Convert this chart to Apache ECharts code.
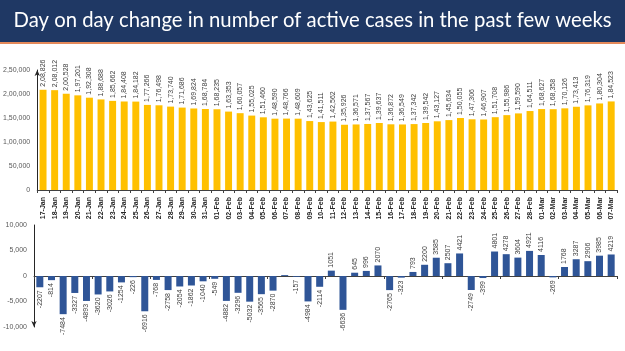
<!DOCTYPE html>
<html>
<head>
<meta charset="utf-8">
<script src="https://cdn.jsdelivr.net/npm/echarts@6/dist/echarts.min.js"></script>
<style>
html,body{margin:0;padding:0;background:#fff;}
#chart{width:625px;height:351px;}
</style>
</head>
<body>
<div id="chart"></div>
<script>
const titleText = "Day on day change in number of active cases in the past few weeks";

const categories = [
  "17-Jan","18-Jan","19-Jan","20-Jan","21-Jan","22-Jan","23-Jan","24-Jan","25-Jan","26-Jan",
  "27-Jan","28-Jan","29-Jan","30-Jan","31-Jan",
  "01-Feb","02-Feb","03-Feb","04-Feb","05-Feb","06-Feb","07-Feb","08-Feb","09-Feb","10-Feb",
  "11-Feb","12-Feb","13-Feb","14-Feb","15-Feb","16-Feb","17-Feb","18-Feb","19-Feb","20-Feb",
  "21-Feb","22-Feb","23-Feb","24-Feb","25-Feb","26-Feb","27-Feb","28-Feb",
  "01-Mar","02-Mar","03-Mar","04-Mar","05-Mar","06-Mar","07-Mar"
];

const activeCases = [
  208826,208012,200528,197201,192308,188688,185662,184408,184182,177266,
  176498,173740,171686,169824,168784,
  168235,163353,160057,155025,151460,148590,148766,148609,143625,141511,
  142562,135926,136571,137567,139637,136872,136549,137342,139542,143127,
  145634,150055,147306,146907,151708,155986,159590,164511,
  168627,168358,170126,173413,176319,180304,184523
];

const dailyChange = [
  -2207,-814,-7484,-3327,-4893,-3620,-3026,-1254,-226,-6916,
  -768,-2758,-2054,-1862,-1040,
  -549,-4882,-3296,-5032,-3565,-2870,176,-157,-4984,-2114,
  1051,-6636,645,996,2070,-2765,-323,793,2200,3585,
  2507,4421,-2749,-399,4801,4278,3604,4921,
  4116,-269,1768,3287,2906,3985,4219
];

// labels not printed in the reference
const hiddenChangeLabels = ["07-Feb"];

const topTicks = [0,50000,100000,150000,200000,250000];
const bottomTicks = [-10000,-5000,0,5000,10000];

function indianFormat(n){
  const neg = n < 0;
  let s = String(Math.abs(Math.round(n)));
  if (s.length > 3){
    const last3 = s.slice(-3);
    let rest = s.slice(0,-3);
    rest = rest.replace(/\B(?=(\d{2})+(?!\d))/g, ",");
    s = rest + "," + last3;
  }
  return (neg ? "-" : "") + s;
}
function westernFormat(n){
  const neg = n < 0;
  const s = String(Math.abs(n)).replace(/\B(?=(\d{3})+(?!\d))/g, ",");
  return (neg ? "-" : "") + s;
}

const FONT = "Liberation Sans";
const chart = echarts.init(document.getElementById('chart'), null, {renderer:'canvas'});

const changeData = dailyChange.map((v,i) => ({
  value: v,
  label: {
    show: hiddenChangeLabels.indexOf(categories[i]) < 0,
    position: v >= 0 ? 'top' : 'bottom',
    align: v >= 0 ? 'left' : 'right'
  }
}));

const option = {
  backgroundColor: '#ffffff',
  animation: false,
  graphic: [
    {type:'rect', left:0, top:0, shape:{width:625, height:42}, style:{fill:'#1F3864'}, z:10},
    {type:'rect', left:0, top:42, shape:{width:625, height:2}, style:{fill:'#E4895A'}, z:10},
    {type:'text', left:'center', top:10, z:11,
     style:{text:titleText, fill:'#ffffff', fontFamily:'Lato', fontSize:20.3}}
  ],
  grid: [
    {left:34, right:8, top:70, height:120, containLabel:false},
    {left:34, right:8, top:225, height:102, containLabel:false}
  ],
  xAxis: [
    {
      type:'category', gridIndex:0, data:categories,
      axisLine:{show:true, lineStyle:{color:'#404040', width:1}},
      axisTick:{show:true, length:3, lineStyle:{color:'#404040'}},
      axisLabel:{rotate:90, interval:0, margin:7, fontFamily:FONT, fontSize:7, color:'#262626', fontWeight:'bold'}
    },
    {
      type:'category', gridIndex:1, data:categories,
      axisLine:{show:true, onZero:true, lineStyle:{color:'#404040', width:1}},
      axisTick:{show:true, length:3, lineStyle:{color:'#404040'}},
      axisLabel:{show:false}
    }
  ],
  yAxis: [
    {
      type:'value', gridIndex:0, min:topTicks[0], max:topTicks[topTicks.length-1], interval:50000,
      axisLine:{show:true, symbol:['none','arrow'], symbolSize:[4,6], lineStyle:{color:'#262626'}},
      axisTick:{show:false},
      splitLine:{show:false},
      axisLabel:{margin:7, fontFamily:FONT, fontSize:7, color:'#595959', formatter:v=>indianFormat(v)}
    },
    {
      type:'value', gridIndex:1, min:bottomTicks[0], max:bottomTicks[bottomTicks.length-1], interval:5000,
      axisLine:{show:true, symbol:['arrow','none'], symbolSize:[4,6], lineStyle:{color:'#262626'}},
      axisTick:{show:false},
      splitLine:{show:false},
      axisLabel:{margin:7, fontFamily:FONT, fontSize:7, color:'#595959', formatter:v=>westernFormat(v)}
    }
  ],
  series: [
    {
      type:'bar', xAxisIndex:0, yAxisIndex:0, data:activeCases,
      barWidth:'60%',
      itemStyle:{color:'#FFC000'},
      label:{show:true, position:'top', rotate:90, align:'left', verticalAlign:'middle', distance:3,
             fontFamily:FONT, fontSize:7, color:'#404040', formatter:p=>indianFormat(p.value)}
    },
    {
      type:'bar', xAxisIndex:1, yAxisIndex:1, data:changeData,
      barWidth:'60%',
      itemStyle:{color:'#2F5597'},
      label:{show:true, rotate:90, verticalAlign:'middle', distance:3,
             fontFamily:FONT, fontSize:7, color:'#404040', formatter:p=>String(p.value)}
    }
  ]
};
chart.setOption(option);
</script>
</body>
</html>
